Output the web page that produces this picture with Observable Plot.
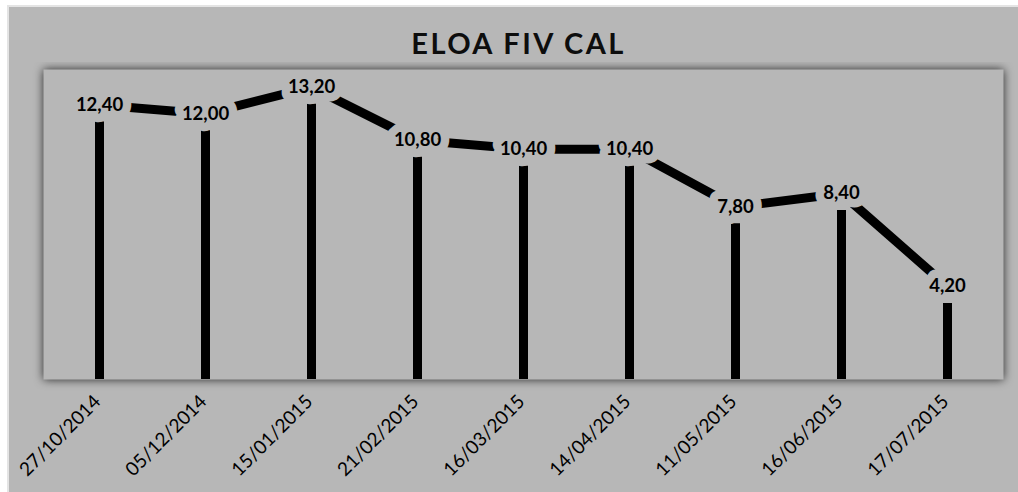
<!DOCTYPE html>
<html>
<head>
<meta charset="utf-8">
<script src="https://cdn.jsdelivr.net/npm/d3@7"></script>
<script src="https://cdn.jsdelivr.net/npm/@observablehq/plot@0.6"></script>
<style>
  html, body { margin: 0; padding: 0; background: #ffffff; width: 1018px; height: 492px; overflow: hidden; }
  #card { position: absolute; left: 7px; top: 5px; width: 1011px; height: 487px; background: #b7b7b7;
          border-top: 2px solid #e4e4e4; border-left: 2px solid #e4e4e4; box-sizing: border-box; }
  #title { height: 55px; box-sizing: border-box; padding-top: 19px; padding-left: 10px; text-align: center;
           font-family: Lato, "Open Sans", sans-serif; font-weight: bold; font-size: 29px; line-height: 1.2;
           letter-spacing: 2.4px; color: #0d0d0d; }
  #chart svg { display: block; }
</style>
</head>
<body>
<div id="card">
  <div id="title">ELOA FIV CAL</div>
  <div id="chart"></div>
</div>
<script>
const dates = ["27/10/2014", "05/12/2014", "15/01/2015", "21/02/2015", "16/03/2015", "14/04/2015", "11/05/2015", "16/06/2015", "17/07/2015"];
const values = [12.40, 12.00, 13.20, 10.80, 10.40, 10.40, 7.80, 8.40, 4.20];

const data = dates.map((d, i) => ({date: d, value: values[i]}));
const fmt = v => v.toFixed(2).replace(".", ",");
const bg = "#b7b7b7";

const chart = Plot.plot({
  width: 1009,
  height: 430,
  marginLeft: 34,
  marginRight: 15,
  marginTop: 7,
  marginBottom: 113,
  style: {background: "transparent", fontFamily: "Lato, 'Open Sans', sans-serif", color: "#000"},
  x: {type: "point", domain: dates, padding: 0.5, label: null},
  y: {domain: [0, 14], axis: null},
  marks: [
    Plot.frame({fill: bg, stroke: null}),
    Plot.ruleX(data, {x: "date", y1: "value", y2: 0, stroke: "#000", strokeWidth: 9, insetTop: 17}),
    Plot.lineY(data, {x: "date", y: "value", stroke: "#000", strokeWidth: 9, strokeLinejoin: "miter"}),
    Plot.text(data, {x: "date", y: "value", text: d => fmt(d.value), fill: bg, stroke: bg, strokeWidth: 17,
                     strokeLinejoin: "round", fontWeight: "bold", fontSize: 18.5}),
    Plot.text(data, {x: "date", y: "value", text: d => fmt(d.value), fill: "#000",
                     fontWeight: "bold", fontSize: 18.5}),
    Plot.axisX({tickRotate: -45, tickSize: 0, tickPadding: 19, dx: -2, fontSize: 19, label: null, fill: "#000"})
  ]
});
document.getElementById("chart").appendChild(chart);
const svg = d3.select(chart);
svg.select("[aria-label=frame]").style("filter", "drop-shadow(0px 0px 5px rgba(0,0,0,0.8))");
</script>
</body>
</html>
